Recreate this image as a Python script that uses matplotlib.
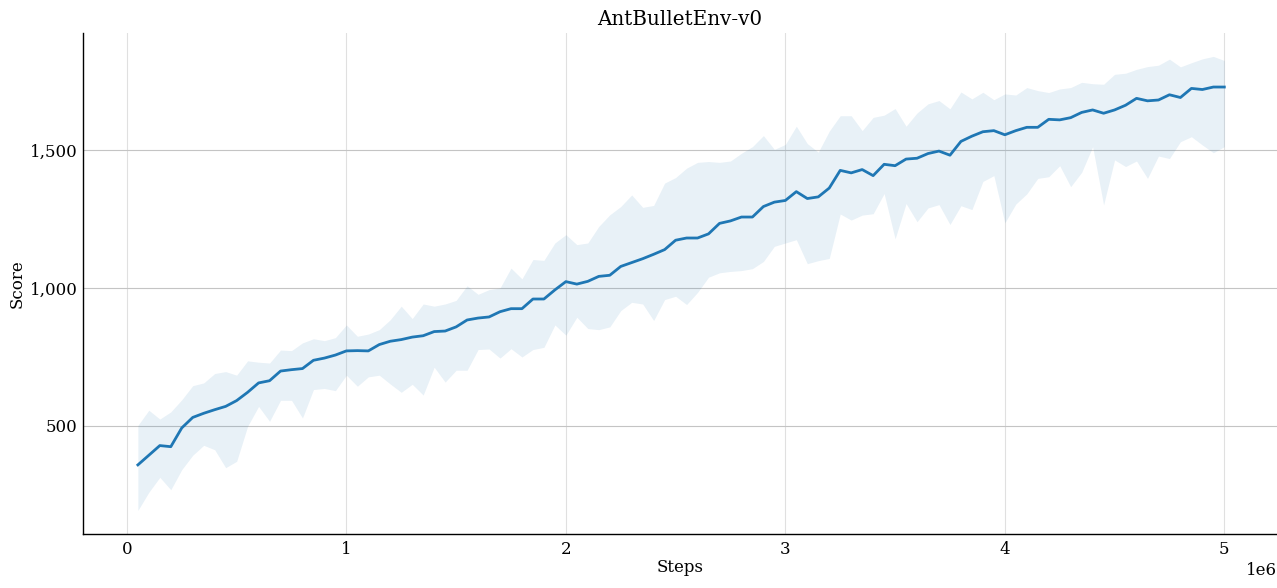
import matplotlib
matplotlib.use("Agg")
import matplotlib.pyplot as plt
import numpy as np
from matplotlib.ticker import FuncFormatter

steps = [50000 * k for k in range(1, 101)]

mean_score = [
    359, 394, 429, 425, 493, 531, 546, 559, 571, 592,
    622, 656, 664, 699, 704, 708, 738, 746, 757, 772,
    773, 772, 795, 807, 813, 822, 827, 842, 844, 859,
    884, 891, 895, 914, 925, 925, 960, 960, 993, 1023,
    1014, 1024, 1042, 1046, 1078, 1092, 1106, 1122, 1139, 1173,
    1181, 1181, 1196, 1234, 1243, 1257, 1257, 1295, 1311, 1317,
    1349, 1324, 1330, 1362, 1426, 1417, 1429, 1407, 1448, 1443,
    1467, 1470, 1487, 1496, 1481, 1531, 1550, 1566, 1570, 1555,
    1570, 1582, 1582, 1611, 1609, 1617, 1636, 1645, 1633, 1645,
    1662, 1687, 1678, 1681, 1700, 1690, 1723, 1719, 1728, 1728,
]

upper_score = [
    502, 557, 525, 551, 595, 646, 656, 690, 697, 684,
    736, 731, 728, 775, 773, 801, 816, 809, 820, 866,
    825, 833, 849, 885, 934, 889, 942, 934, 942, 955,
    1008, 977, 994, 1000, 1072, 1033, 1103, 1100, 1163, 1193,
    1157, 1163, 1223, 1265, 1295, 1337, 1292, 1299, 1380, 1400,
    1434, 1455, 1458, 1455, 1460, 1488, 1512, 1552, 1502, 1520,
    1586, 1523, 1492, 1568, 1624, 1624, 1570, 1618, 1626, 1650,
    1586, 1634, 1667, 1679, 1649, 1710, 1685, 1709, 1682, 1703,
    1699, 1726, 1715, 1708, 1721, 1726, 1745, 1740, 1738, 1774,
    1778, 1792, 1802, 1807, 1829, 1801, 1816, 1830, 1839, 1824,
]

lower_score = [
    194, 260, 314, 269, 342, 394, 430, 414, 349, 372,
    499, 571, 517, 593, 593, 529, 632, 636, 628, 684,
    644, 678, 684, 652, 622, 651, 612, 713, 659, 702,
    702, 777, 779, 746, 780, 750, 777, 785, 866, 829,
    894, 853, 849, 859, 918, 948, 942, 882, 958, 970,
    940, 984, 1039, 1055, 1060, 1063, 1070, 1096, 1151, 1163,
    1175, 1088, 1099, 1107, 1268, 1246, 1264, 1269, 1342, 1178,
    1306, 1240, 1290, 1302, 1230, 1298, 1284, 1386, 1407, 1236,
    1304, 1341, 1397, 1403, 1443, 1367, 1419, 1512, 1301, 1464,
    1440, 1460, 1397, 1478, 1469, 1530, 1548, 1518, 1490, 1512,
]

title = "AntBulletEnv-v0"
xlabel = "Steps"
ylabel = "Score"

plt.rcParams['font.family'] = ['DejaVu Serif']

fig = plt.figure(figsize=(12.77, 5.88), dpi=100)
ax = fig.add_axes([0.065, 0.092, 0.935, 0.852])

color = '#1f77b4'
ax.fill_between(steps, lower_score, upper_score, color=color, alpha=0.1, linewidth=0)
ax.plot(steps, mean_score, color=color, linewidth=2)

ax.set_xlim(-0.2e6, 5.24e6)
ax.set_ylim(109, 1924)
ax.set_xticks([0, 1e6, 2e6, 3e6, 4e6, 5e6])
ax.set_yticks([500, 1000, 1500])
ax.yaxis.set_major_formatter(FuncFormatter(lambda v, p: f"{int(v):,}"))

ax.tick_params(axis='x', length=0, labelsize=12, pad=5)
ax.tick_params(axis='y', length=0, labelsize=12, pad=4)
ax.xaxis.get_offset_text().set_fontsize(12)

ax.yaxis.grid(True, color='#c4c4c4', linewidth=0.8)
ax.xaxis.grid(True, color='#e0e0e0', linewidth=0.8)
ax.set_axisbelow(True)

for s in ['top', 'right']:
    ax.spines[s].set_visible(False)
for s in ['left', 'bottom']:
    ax.spines[s].set_color('black')
    ax.spines[s].set_linewidth(1.0)

ax.set_title(title, fontsize=14.3)
ax.set_xlabel(xlabel, fontsize=12, labelpad=1)
ax.set_ylabel(ylabel, fontsize=12, labelpad=3)

fig.savefig('out.png', dpi=100)
